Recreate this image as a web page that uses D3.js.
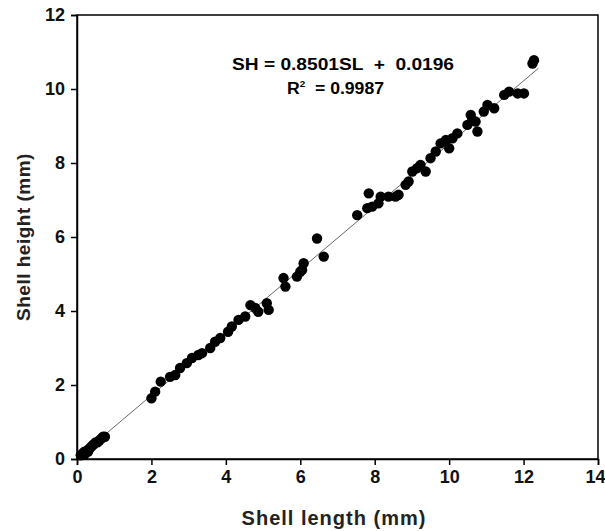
<!DOCTYPE html>
<html>
<head>
<meta charset="utf-8">
<script src="https://cdn.jsdelivr.net/npm/d3@7"></script>
<style>
  body { margin: 0; background: #fff; }
  text { font-family: Arial, "Liberation Sans", sans-serif; font-weight: bold; }
</style>
</head>
<body>
<svg class="main-svg" width="605" height="531"></svg>
<script>
'use strict'

// shell length (mm)
const shellLength = [
  0.1, 0.15, 0.2, 0.2, 0.25, 0.3, 0.3, 0.35, 0.4, 0.45, 0.5, 0.55, 0.6, 0.65, 0.7, 0.75,
  2.0, 2.1, 2.25, 2.5, 2.64, 2.77, 2.95, 3.09, 3.26, 3.36, 3.58, 3.71, 3.85, 4.06,
  4.16, 4.34, 4.52, 4.66, 4.79, 4.87, 5.1, 5.15, 5.55, 5.6, 5.91, 6.0, 6.05, 6.09,
  6.45, 6.63, 7.53, 7.8, 7.84, 7.93, 8.1, 8.16, 8.37, 8.56, 8.64, 8.83, 8.91,
  9.01, 9.14, 9.23, 9.37, 9.5, 9.64, 9.77, 9.91, 10.0, 10.09, 10.22, 10.49, 10.58,
  10.62, 10.71, 10.76, 10.93, 11.03, 11.21, 11.48, 11.61, 11.84, 12.01, 12.24, 12.28
]
// shell height (mm)
const shellHeight = [
  0.1, 0.15, 0.12, 0.2, 0.18, 0.2, 0.25, 0.3, 0.35, 0.4, 0.45, 0.45, 0.5, 0.55, 0.6, 0.6,
  1.64, 1.82, 2.09, 2.22, 2.27, 2.46, 2.59, 2.73, 2.81, 2.86, 3.0, 3.17, 3.27, 3.44,
  3.58, 3.76, 3.85, 4.16, 4.08, 3.98, 4.21, 4.03, 4.89, 4.66, 4.93, 5.06, 5.11, 5.29,
  5.96, 5.47, 6.59, 6.78, 7.18, 6.82, 6.91, 7.09, 7.09, 7.09, 7.14, 7.41, 7.5,
  7.77, 7.86, 7.95, 7.77, 8.13, 8.31, 8.53, 8.62, 8.4, 8.67, 8.8, 9.03, 9.3,
  9.16, 9.12, 8.85, 9.39, 9.57, 9.48, 9.84, 9.93, 9.88, 9.88, 10.69, 10.78
]

const slope = 0.8501
const intercept = 0.0196
const fitRange = [0, 12.4]

const xTicks = [0, 2, 4, 6, 8, 10, 12, 14]
const yTicks = [0, 2, 4, 6, 8, 10, 12]

const margin = { top: 15, right: 7, bottom: 72, left: 77 }
const width = 605 - margin.left - margin.right
const height = 531 - margin.top - margin.bottom

const svg = d3.select('.main-svg')
const g = svg.append('g').attr('transform', `translate(${margin.left},${margin.top})`)

const x = d3.scaleLinear().domain([0, 14]).range([0, width])
const y = d3.scaleLinear().domain([0, 12]).range([height, 0])

// frame
g.append('rect')
  .attr('width', width).attr('height', height)
  .attr('fill', 'none').attr('stroke', '#000').attr('stroke-width', 1.5)

const xAxis = g.append('g')
  .attr('transform', `translate(0,${height})`)
  .call(d3.axisBottom(x).tickValues(xTicks).tickSize(6).tickPadding(5))
const yAxis = g.append('g')
  .call(d3.axisLeft(y).tickValues(yTicks).tickSize(6).tickPadding(6))

for (const ax of [xAxis, yAxis]) {
  ax.select('.domain').attr('stroke-width', 1.5)
  ax.selectAll('.tick line').attr('stroke-width', 1.5)
  ax.selectAll('.tick text')
    .style('font-size', '18px').style('font-weight', 'bold')
    .style('font-family', 'Arial, "Liberation Sans", sans-serif')
    .attr('fill', '#111')
}
// last x label sits against the right edge, as in the original
xAxis.selectAll('.tick text').filter(d => d === 14)
  .attr('text-anchor', 'end').attr('dx', 7)

// fitted line
g.append('line')
  .attr('x1', x(fitRange[0])).attr('y1', y(slope * fitRange[0] + intercept))
  .attr('x2', x(fitRange[1])).attr('y2', y(slope * fitRange[1] + intercept))
  .attr('stroke', '#666').attr('stroke-width', 1)

// points
g.selectAll('circle.pt')
  .data(shellLength.map((d, i) => [d, shellHeight[i]]))
  .join('circle')
  .attr('class', 'pt')
  .attr('cx', d => x(d[0]))
  .attr('cy', d => y(d[1]))
  .attr('r', 5.2)
  .attr('fill', '#000')

// equation
g.append('text')
  .attr('x', 155).attr('y', 55)
  .attr('textLength', 222).attr('lengthAdjust', 'spacingAndGlyphs')
  .style('font-size', '16px')
  .style('white-space', 'pre')
  .text('SH = 0.8501SL  +  0.0196')

const r2 = g.append('text')
  .attr('x', 210).attr('y', 79)
  .attr('textLength', 97).attr('lengthAdjust', 'spacingAndGlyphs')
  .style('font-size', '16px')
  .style('white-space', 'pre')
r2.append('tspan').text('R')
r2.append('tspan').attr('dy', -7).style('font-size', '9px').text('2')
r2.append('tspan').attr('dy', 7).text('  = 0.9987')

// axis titles
svg.append('text')
  .attr('x', 334).attr('y', 525)
  .attr('text-anchor', 'middle')
  .style('font-size', '20px')
  .style('letter-spacing', '1px')
  .attr('fill', '#222')
  .text('Shell length (mm)')

svg.append('text')
  .attr('transform', `translate(30,${margin.top + height / 2}) rotate(-90)`)
  .attr('text-anchor', 'middle')
  .style('font-size', '19px')
  .style('letter-spacing', '0.5px')
  .attr('fill', '#222')
  .text('Shell height (mm)')
</script>
</body>
</html>
